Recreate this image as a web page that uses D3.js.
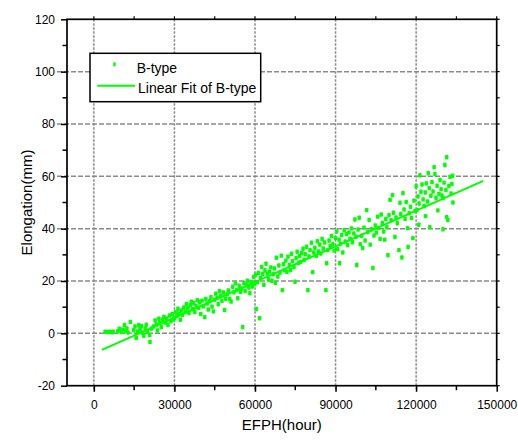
<!DOCTYPE html>
<html>
<head>
<meta charset="utf-8">
<script src="https://cdn.jsdelivr.net/npm/d3@7/dist/d3.min.js"></script>
<style>
  html, body { margin: 0; padding: 0; background: #fff; }
  svg { display: block; font-family: Arial, "Liberation Sans", sans-serif; }
</style>
</head>
<body>
<svg id="chart" width="518" height="441"></svg>
<script>
// Elongation of B-type parts versus equivalent full-power hours (EFPH)
// Samples grouped by operating-hour band: [EFPH (hour), elongation (mm)]
const band0to30k = [
  [4200,0.6],[5000,0.5],[5900,0.6],[6800,0.4],[7200,0.6],
  [8900,0.8],[9500,1.8],[10200,0.5],[10800,1.4],[11400,3.2],[11800,0.9],[12300,1.9],[12700,0.3],[13600,4.4],
  [14800,1.2],[15300,2.6],[15800,-1.8],[16200,0.7],[16700,3.1],[17200,1.5],[17700,2.8],[18100,0.2],[18600,-0.9],
  [19100,1.9],[19500,3.3],[19900,0.6],[20800,-0.6],[20900,-3.3],[21500,1.8],[22200,2.6],[22800,4.9],[23300,3.4],
  [23700,1.1],[24200,5.6],[24600,3.9],[25100,2.4],[25600,5.2],[26100,6.3],[26600,4.1],[27100,5.7],[27600,3.2],
  [28200,6.8],[28700,4.6],[29200,7.4],[29700,5.3]
];
const band30to60k = [
  [30100,5.9],[30500,8.2],[30900,6.7],[31300,9.4],[31700,7.5],[32200,5.2],[32600,8.8],[33000,7.1],[33500,9.9],
  [34000,8.4],[34500,11.2],[35000,9.6],[35400,7.8],[35900,10.8],[36300,12.1],[36800,9.2],[37200,11.5],[37600,8.1],
  [38100,10.4],[38500,12.7],[39000,9.8],[39400,11.9],[39800,7.4],[40300,12.5],[40700,10.3],[41300,6.2],[41700,13.1],
  [42200,11.4],[42600,9.1],[43100,12.3],[43600,13.8],[44000,10.2],[44500,8.4],[45000,12.9],[45400,15.2],[45900,13.6],
  [46300,11.1],[46800,16.1],[47200,14.3],[47700,12.4],[48200,15.6],[48700,8.9],[49100,13.2],[49600,14.9],
  [50100,16.4],[50600,13.1],[51100,12.2],[51700,17.8],[52200,15.7],[52700,19.1],[53200,16.5],[53600,13.4],
  [54100,18.2],[54600,15.9],[55000,17.1],[55400,2.4],[55900,19.3],[56300,16.2],[56800,18.4],[57200,20.1],
  [57700,17.5],[58100,15.3],[58600,19.6],[59000,17.9],[59500,21.6],[59800,18.7]
];
const band60to90k = [
  [60200,22.3],[60500,9.3],[60900,19.5],[61300,23.1],[61700,5.8],[62100,21.2],[62500,25.4],[62900,22.8],
  [63300,18.6],[63700,24.1],[64100,26.6],[64600,22.9],[65000,20.7],[65400,23.6],[65900,25.2],[66300,20.1],
  [66800,22.6],[67200,24.8],[67600,19.3],[68000,28.9],[68500,21.7],[68900,25.9],[69300,23.2],[69800,29.7],
  [70200,16.5],[70600,26.4],[71000,24.1],[71500,27.8],[71900,23.5],[72300,29.3],[72800,26.1],[73200,24.2],
  [73600,30.4],[74000,27.6],[74500,25.3],[74900,19.7],[75300,28.8],[75700,31.2],[76200,26.9],[76600,29.5],
  [77000,27.3],[77400,30.7],[77900,32.3],[78300,28.1],[78700,30.2],[79200,33.1],[79700,16.5],[80100,29.4],
  [80500,31.8],[81000,34.6],[81500,23.4],[81900,30.9],[82300,32.7],[82800,29.6],[83200,35.2],[83600,31.3],
  [84100,33.9],[84500,30.5],[85000,36.1],[85400,32.4],[85900,34.7],[86400,16.5],[86700,26.8],[87100,31.8],
  [87600,35.5],[88000,33.4],[88500,37.2],[89000,34.1],[89500,31.6]
];
const band90to120k = [
  [90000,36.4],[90400,38.9],[90800,32.2],[91300,35.8],[91500,26.8],[91900,34.3],[92300,37.6],[92700,30.9],
  [93200,39.4],[93600,35.1],[94100,37.9],[94500,33.7],[95000,38.6],[95400,36.2],[95900,40.1],[96300,34.8],
  [96800,38.2],[97200,43.5],[97600,36.9],[97900,26.1],[98400,39.7],[98800,44.2],[99200,34.1],[99700,37.3],
  [100100,32.6],[100600,40.4],[101000,35.5],[101600,47.1],[102000,38.7],[102500,43.3],[102900,33.9],[103400,39.8],
  [103900,25.0],[104300,37.4],[104800,41.2],[105200,38.5],[105700,44.6],[106100,40.3],[106600,36.1],[107000,45.4],
  [107400,42.2],[107900,38.9],[108300,35.8],[108700,43.7],[109100,40.6],[109500,29.9],[109900,45.1],[110300,51.0],
  [110700,43.2],[111200,52.8],[111600,46.1],[112100,36.8],[112500,44.3],[113000,42.1],[113600,31.8],[114000,49.9],
  [114300,45.6],[114700,29.0],[115100,53.6],[115500,47.3],[115900,43.8],[116300,50.2],[116800,40.2],[117000,33.0],
  [117400,45.9],[117900,48.4],[118300,44.1],[118800,36.4],[119200,50.7],[119600,46.7]
];
const band120kUp = [
  [120000,56.2],[120300,47.2],[120700,52.3],[121000,41.5],[121100,49.6],[121400,60.4],[121800,54.1],[122200,56.9],
  [122600,51.2],[123000,48.7],[123400,53.8],[123500,44.8],[123800,57.3],[124200,50.4],[124500,61.2],[124900,55.5],
  [125100,40.6],[125500,52.6],[125900,57.8],[126300,54.2],[126700,63.5],[127000,60.9],[127400,51.8],[127800,56.4],
  [128100,47.0],[128500,53.3],[128900,58.6],[129300,55.1],[129600,52.7],[130000,39.8],[130000,51.7],[130400,57.6],
  [130700,64.3],[131100,54.8],[131400,67.3],[131400,44.4],[131800,43.3],[132200,56.3],[132600,59.8],[133000,53.5],
  [133300,57.1],[133600,60.2],[133700,50.0]
];

// Linear fit of B-type: elongation = intercept + slope * EFPH
const fitIntercept = -7.7;
const fitSlope = 0.000455;
const fitRange = [3000, 145000];

// Axis ticks
const xMajorTicks = [0, 30000, 60000, 90000, 120000, 150000];
const xMinorTicks = [15000, 45000, 75000, 105000, 135000];
const yMajorTicks = [-20, 0, 20, 40, 60, 80, 100, 120];
const yMinorTicks = [-10, 10, 30, 50, 70, 90, 110];
const xGridValues = [0, 30000, 60000, 90000, 120000];
const yGridValues = [0, 20, 40, 60, 80, 100];

const seriesName = "B-type";
const fitName = "Linear Fit of B-type";
const xTitle = "EFPH(hour)";
const yTitle = "Elongation(mm)";

const GREEN = "#00ff00";
const GRID = "#8a8a8a";

const L = 67, R = 496.7, T = 19.3, B = 385.7;

const x = d3.scaleLinear().domain([-10000, 150000]).range([L, R]);
const y = d3.scaleLinear().domain([-20, 120]).range([B, T]);

// plain hyphen for negative labels
const plainInt = d => String(Math.round(d));

const svg = d3.select("#chart");

// Grid lines
const grid = svg.append("g");
grid.selectAll("line.h").data(yGridValues).join("line")
  .attr("x1", 57).attr("x2", R)
  .attr("y1", d => y(d)).attr("y2", d => y(d))
  .attr("stroke", GRID).attr("stroke-width", 1.5).attr("stroke-dasharray", "5,2");
grid.selectAll("line.v").data(xGridValues).join("line")
  .attr("x1", d => x(d)).attr("x2", d => x(d))
  .attr("y1", T).attr("y2", B + 6)
  .attr("stroke", GRID).attr("stroke-width", 1.5).attr("stroke-dasharray", "2.5,1.5");

// Scatter points
const allPoints = [].concat(band0to30k, band30to60k, band60to90k, band90to120k, band120kUp);
svg.append("g").selectAll("rect").data(allPoints).join("rect")
  .attr("x", d => x(d[0]) - 1.75)
  .attr("y", d => y(d[1]) - 2.2)
  .attr("width", 3.5).attr("height", 4.4)
  .attr("rx", 0.9)
  .attr("fill", GREEN);

// Fit line
svg.append("line")
  .attr("x1", x(fitRange[0])).attr("y1", y(fitIntercept + fitSlope * fitRange[0]))
  .attr("x2", x(fitRange[1])).attr("y2", y(fitIntercept + fitSlope * fitRange[1]))
  .attr("stroke", GREEN).attr("stroke-width", 2);

// Axes
const tickFont = g => g.selectAll("text").attr("font-size", 12).attr("fill", "#000")
  .attr("font-family", "Arial, 'Liberation Sans', sans-serif");

const xAxis = svg.append("g").attr("transform", `translate(0,${B})`)
  .call(d3.axisBottom(x).tickValues(xMajorTicks).tickFormat(plainInt).tickSize(6).tickPadding(9));
xAxis.select(".domain").remove();
xAxis.selectAll(".tick line").attr("stroke", "#000").attr("stroke-width", 1.5);
tickFont(xAxis);

svg.append("g").selectAll("line").data(xMinorTicks).join("line")
  .attr("x1", d => x(d)).attr("x2", d => x(d)).attr("y1", B).attr("y2", B + 4.5)
  .attr("stroke", "#000").attr("stroke-width", 1.5);

const yAxis = svg.append("g").attr("transform", `translate(${L},0)`)
  .call(d3.axisLeft(y).tickValues(yMajorTicks).tickFormat(plainInt).tickSize(6).tickPadding(6));
yAxis.select(".domain").remove();
yAxis.selectAll(".tick line").attr("stroke", "#000").attr("stroke-width", 1.5);
tickFont(yAxis);

svg.append("g").selectAll("line").data(yMinorTicks).join("line")
  .attr("x1", L - 4.5).attr("x2", L).attr("y1", d => y(d)).attr("y2", d => y(d))
  .attr("stroke", "#000").attr("stroke-width", 1.5);

// Mirror ticks on right and top
svg.append("g").selectAll("line").data(yMinorTicks.concat(yMajorTicks)).join("line")
  .attr("x1", R).attr("x2", R + 3).attr("y1", d => y(d)).attr("y2", d => y(d))
  .attr("stroke", "#000").attr("stroke-width", 1.2);
svg.append("g").selectAll("line").data(xMinorTicks.concat(xMajorTicks)).join("line")
  .attr("x1", d => x(d)).attr("x2", d => x(d)).attr("y1", T).attr("y2", T - 3)
  .attr("stroke", "#000").attr("stroke-width", 1.2);

// Frame
svg.append("rect")
  .attr("x", L).attr("y", T).attr("width", R - L).attr("height", B - T)
  .attr("fill", "none").attr("stroke", "#000").attr("stroke-width", 1.7);

// Axis titles
svg.append("text")
  .attr("x", (L + R) / 2).attr("y", 429.5)
  .attr("text-anchor", "middle").attr("font-size", 15).text(xTitle);
svg.append("text")
  .attr("transform", `translate(32,${(T + B) / 2}) rotate(-90)`)
  .attr("text-anchor", "middle").attr("font-size", 15).text(yTitle);

// Legend
const lg = svg.append("g");
lg.append("rect")
  .attr("x", 90).attr("y", 53.3).attr("width", 170.7).attr("height", 48.4)
  .attr("fill", "#fff").attr("stroke", "#000").attr("stroke-width", 1.5);
lg.append("rect")
  .attr("x", 113.3).attr("y", 62.3).attr("width", 2.4).attr("height", 4).attr("rx", 0.6)
  .attr("fill", GREEN);
lg.append("text").attr("x", 136.7).attr("y", 72.8).attr("font-size", 14).text(seriesName);
lg.append("line")
  .attr("x1", 97.3).attr("x2", 135).attr("y1", 85.7).attr("y2", 85.7)
  .attr("stroke", GREEN).attr("stroke-width", 2);
lg.append("text").attr("x", 138).attr("y", 92.8).attr("font-size", 14).text(fitName);
</script>
</body>
</html>
